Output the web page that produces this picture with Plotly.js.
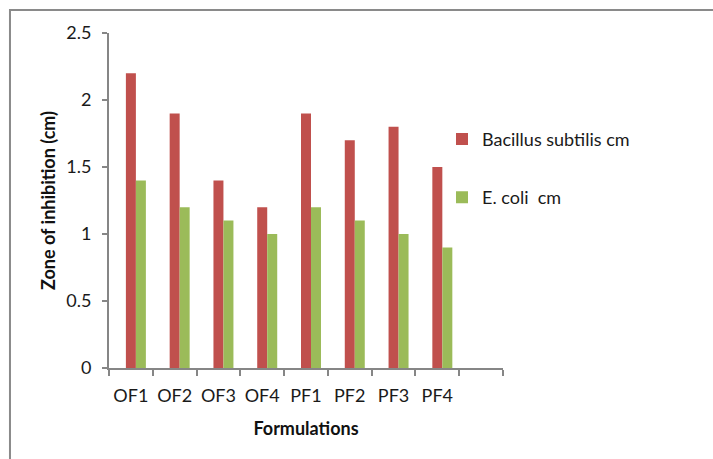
<!DOCTYPE html>
<html>
<head>
<meta charset="utf-8">
<script src="https://cdn.plot.ly/plotly-3.0.1.min.js"></script>
<style>
  html, body { margin: 0; padding: 0; background: #ffffff; }
  #chart { width: 713px; height: 459px; }
</style>
</head>
<body>
<div id="chart"></div>
<script>
// Formulation codes on the x axis
const formulations = ["OF1", "OF2", "OF3", "OF4", "PF1", "PF2", "PF3", "PF4"];

// Zone of inhibition (cm) for each organism
const bacillusSubtilis = [2.2, 1.9, 1.4, 1.2, 1.9, 1.7, 1.8, 1.5];
const eColi = [1.4, 1.2, 1.1, 1.0, 1.2, 1.1, 1.0, 0.9];

// An unused series slot keeps the bars offset within each group
const emptySeries = formulations.map(() => null);

// The axis carries one trailing, unlabelled slot after the last formulation
const axisCategories = formulations.concat(["\u00a0"]);

const yTicks = [0, 0.5, 1, 1.5, 2, 2.5];
const yTickText = ["0", "0.5", "1", "1.5", "2", "2.5"];

const axisGrey = "#868686";
const textColor = "#1a1a1a";
const fontFamily = "Lato, 'Open Sans', sans-serif";

const traces = [
  { type: "bar", x: formulations, y: emptySeries, name: "", showlegend: false,
    hoverinfo: "skip", marker: { color: "rgba(0,0,0,0)" } },
  { type: "bar", x: formulations, y: bacillusSubtilis, name: "Bacillus subtilis cm",
    legendgroup: "bs", marker: { color: "#C0504D" } },
  { type: "bar", x: formulations, y: eColi, name: "E. coli  cm",
    legendgroup: "ec", marker: { color: "#9BBB59" } }
];

// Paper spans 109px..703px; the bar area uses the left 394px of it
const layout = {
  width: 713,
  height: 459,
  margin: { l: 109, r: 10, t: 33, b: 91, pad: 0 },
  paper_bgcolor: "#ffffff",
  plot_bgcolor: "#ffffff",
  font: { family: fontFamily, size: 18, color: textColor },
  barmode: "group",
  bargap: 0.315,
  bargroupgap: 0,
  showlegend: true,
  legend: {
    x: 0.5606, xanchor: "left",
    y: 0.738, yanchor: "top",
    font: { family: fontFamily, size: 18, color: textColor },
    itemwidth: 30,
    traceorder: "grouped",
    tracegroupgap: 32,
    bgcolor: "rgba(0,0,0,0)"
  },
  xaxis: {
    domain: [0, 0.6633],
    type: "category",
    categoryorder: "array",
    categoryarray: axisCategories,
    range: [-0.5, 8.5],
    autorange: false,
    showline: true, linecolor: axisGrey, linewidth: 2,
    ticks: "outside", tickson: "boundaries", ticklen: 6, tickcolor: axisGrey, tickwidth: 2,
    tickangle: 0,
    ticklabelstandoff: 10,
    showgrid: false, zeroline: false,
    tickfont: { family: fontFamily, size: 18, color: textColor },
    title: { text: "<b>Formulations</b>", standoff: 18,
             font: { family: fontFamily, size: 18, color: "#111111" } },
    fixedrange: true
  },
  yaxis: {
    range: [0, 2.5],
    autorange: false,
    tickmode: "array", tickvals: yTicks, ticktext: yTickText,
    showline: true, linecolor: axisGrey, linewidth: 2,
    ticks: "outside", ticklen: 5, tickcolor: axisGrey, tickwidth: 2,
    ticklabelstandoff: 7,
    showgrid: false, zeroline: false,
    tickfont: { family: fontFamily, size: 18, color: textColor },
    title: { text: "<b>Zone of inhibition (cm)</b>", standoff: 6,
             font: { family: fontFamily, size: 18, color: "#111111" } },
    fixedrange: true
  },
  shapes: [{
    type: "rect", xref: "paper", yref: "paper",
    x0: -0.1667, x1: 1.2, y0: -1, y1: 1.069,
    line: { color: "#8a8a8a", width: 2 },
    fillcolor: "rgba(0,0,0,0)",
    layer: "below"
  }]
};

Plotly.newPlot("chart", traces, layout, { displayModeBar: false, staticPlot: true });
</script>
</body>
</html>
